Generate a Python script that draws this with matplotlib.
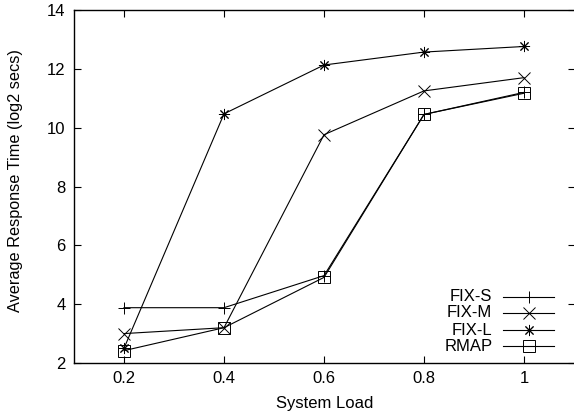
import matplotlib.pyplot as plt

plt.rcParams['font.family'] = ['Liberation Sans', 'DejaVu Sans']

# data
loads = [0.2, 0.4, 0.6, 0.8, 1.0]
fix_s = [3.88, 3.88, 4.97, 10.45, 11.2]
fix_m = [3.0, 3.2, 9.76, 11.25, 11.7]
fix_l = [2.5, 10.47, 12.13, 12.57, 12.76]
rmap = [2.42, 3.2, 4.91, 10.45, 11.17]

labels = ['FIX-S', 'FIX-M', 'FIX-L', 'RMAP']
series = [fix_s, fix_m, fix_l, rmap]
markers = ['+', 'x', (8, 2, 0), 's']

fig = plt.figure(figsize=(5.74, 4.15), dpi=100)
# right frame sits just past the image edge, as in the cropped original
ax = fig.add_axes([74 / 574, 1 - 363 / 415, 501 / 574, 353 / 415])

for vals, mk in zip(series, markers):
    ax.plot(loads, vals, color='black', linewidth=0.8, marker=mk,
            markersize=8, markerfacecolor='none', markeredgecolor='black',
            markeredgewidth=0.7)

ax.set_xlim(0.1, 1.102)
ax.set_ylim(2, 14)
ax.set_xticks([0.2, 0.4, 0.6, 0.8, 1.0], ['0.2', '0.4', '0.6', '0.8', '1'])
ax.set_yticks(range(2, 15, 2))
ax.tick_params(direction='in', top=True, right=True, length=5, width=0.8,
               labelsize=12, pad=6)
for sp in ax.spines.values():
    sp.set_linewidth(1.0)

ax.set_xlabel('System Load', fontsize=12, labelpad=7)
ax.set_ylabel('Average Response Time (log2 secs)', fontsize=11.7)
ax.yaxis.set_label_coords(-0.102, 0.516)

# gnuplot style key, right aligned text with sample on the right
rows = [0.187, 0.142, 0.093, 0.048]
for lab, mk, yy in zip(labels, markers, rows):
    ax.text(0.835, yy, lab, transform=ax.transAxes, ha='right', va='center',
            fontsize=12)
    ax.plot([0.857, 0.959], [yy, yy], transform=ax.transAxes, color='black',
            linewidth=0.8, clip_on=False)
    ax.plot([0.908], [yy], transform=ax.transAxes, marker=mk, markersize=8,
            markerfacecolor='none', markeredgecolor='black',
            markeredgewidth=0.7, linestyle='none', clip_on=False)

fig.savefig('out.png', dpi=100)
